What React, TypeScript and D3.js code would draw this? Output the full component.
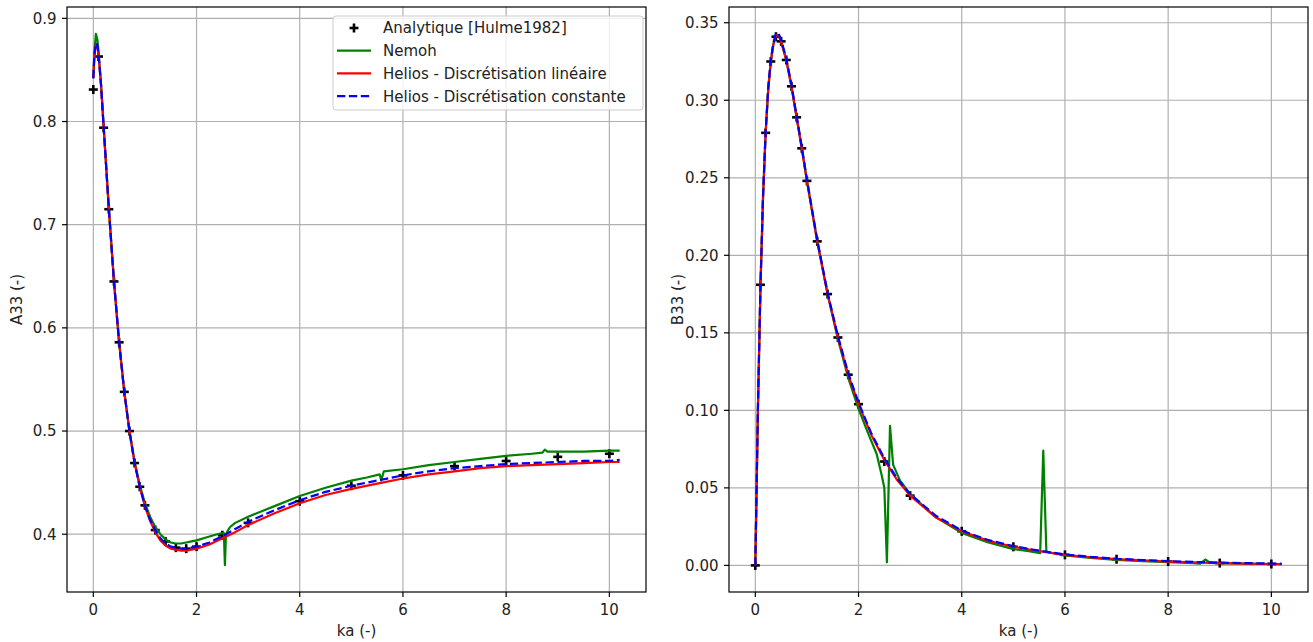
import React from "react";
import * as d3 from "d3";

// ---------- DATA ----------
const analyticX = [0, 0.1, 0.2, 0.3, 0.4, 0.5, 0.6, 0.7, 0.8, 0.9, 1.0, 1.2, 1.4, 1.6, 1.8, 2.0, 2.5, 3, 4, 5, 6, 7, 8, 9, 10];
const analyticA33 = [0.831, 0.863, 0.794, 0.715, 0.645, 0.586, 0.538, 0.5, 0.469, 0.446, 0.428, 0.404, 0.393, 0.387, 0.386, 0.388, 0.399, 0.411, 0.432, 0.447, 0.457, 0.466, 0.471, 0.475, 0.478];
const analyticB33 = [0, 0.181, 0.279, 0.325, 0.341, 0.338, 0.326, 0.309, 0.289, 0.269, 0.248, 0.209, 0.175, 0.147, 0.123, 0.104, 0.067, 0.045, 0.022, 0.012, 0.0068, 0.004, 0.0025, 0.0015, 0.0009];

const heliosAX = [0, 0.02, 0.05, 0.08, 0.1, 0.15, 0.2, 0.3, 0.4, 0.5, 0.6, 0.7, 0.8, 0.9, 1.0, 1.1, 1.2, 1.3, 1.4, 1.5, 1.6, 1.7, 1.8, 1.9, 2.0, 2.25, 2.5, 2.75, 3.0, 3.5, 4.0, 4.5, 5.0, 5.5, 6.0, 6.5, 7.0, 7.5, 8.0, 8.5, 9.0, 9.5, 10.0, 10.2];
const heliosLinA33 = [0.842, 0.863, 0.875, 0.873, 0.866, 0.835, 0.795, 0.716, 0.645, 0.586, 0.538, 0.5, 0.469, 0.446, 0.427, 0.413, 0.402, 0.394, 0.389, 0.386, 0.385, 0.384, 0.384, 0.385, 0.386, 0.39, 0.396, 0.402, 0.409, 0.42, 0.43, 0.438, 0.444, 0.449, 0.454, 0.458, 0.461, 0.464, 0.466, 0.467, 0.468, 0.469, 0.47, 0.47];
const heliosConA33 = [0.842, 0.863, 0.876, 0.874, 0.866, 0.835, 0.795, 0.716, 0.645, 0.586, 0.538, 0.5, 0.469, 0.446, 0.428, 0.414, 0.404, 0.396, 0.391, 0.388, 0.387, 0.386, 0.386, 0.387, 0.388, 0.392, 0.398, 0.405, 0.412, 0.423, 0.433, 0.441, 0.447, 0.452, 0.457, 0.461, 0.464, 0.466, 0.468, 0.469, 0.47, 0.471, 0.471, 0.472];

const nemohAX = [0, 0.02, 0.05, 0.08, 0.1, 0.15, 0.2, 0.3, 0.4, 0.5, 0.6, 0.7, 0.8, 0.9, 1.0, 1.1, 1.2, 1.3, 1.4, 1.5, 1.6, 1.7, 1.8, 1.9, 2.0, 2.2, 2.4, 2.5, 2.53, 2.55, 2.57, 2.6, 2.65, 2.75, 3.0, 3.5, 4.0, 4.5, 5.0, 5.3, 5.55, 5.58, 5.63, 6.0, 6.5, 7.0, 7.5, 8.0, 8.5, 8.7, 8.75, 8.8, 9.0, 9.5, 10.0, 10.2];
const nemohA33 = [0.842, 0.867, 0.885, 0.879, 0.868, 0.836, 0.795, 0.716, 0.645, 0.586, 0.538, 0.5, 0.47, 0.448, 0.43, 0.417, 0.407, 0.4, 0.395, 0.392, 0.391, 0.391, 0.392, 0.393, 0.394, 0.397, 0.4, 0.401, 0.401, 0.37, 0.4, 0.403, 0.407, 0.411, 0.417, 0.427, 0.437, 0.445, 0.452, 0.455, 0.458, 0.452, 0.461, 0.463, 0.467, 0.47, 0.473, 0.476, 0.478, 0.479, 0.482, 0.48, 0.48, 0.48, 0.481, 0.481];

const heliosBX = [0, 0.05, 0.1, 0.15, 0.2, 0.25, 0.3, 0.35, 0.4, 0.45, 0.5, 0.6, 0.7, 0.8, 0.9, 1.0, 1.2, 1.4, 1.6, 1.8, 2.0, 2.25, 2.5, 2.75, 3.0, 3.5, 4, 4.5, 5, 5.5, 6, 6.5, 7, 7.5, 8, 8.5, 9, 9.5, 10, 10.2];
const heliosLinB33 = [0, 0.1, 0.18, 0.238, 0.279, 0.307, 0.325, 0.336, 0.342, 0.342, 0.338, 0.326, 0.309, 0.289, 0.269, 0.248, 0.209, 0.175, 0.147, 0.123, 0.104, 0.084, 0.068, 0.055, 0.045, 0.031, 0.022, 0.016, 0.012, 0.0092, 0.0068, 0.0052, 0.004, 0.0032, 0.0025, 0.0019, 0.0015, 0.0012, 0.0009, 0.0008];
const heliosConB33 = [0, 0.101, 0.181, 0.239, 0.28, 0.308, 0.326, 0.337, 0.343, 0.343, 0.339, 0.327, 0.31, 0.29, 0.27, 0.249, 0.21, 0.176, 0.148, 0.124, 0.105, 0.085, 0.069, 0.056, 0.046, 0.032, 0.0225, 0.0165, 0.0124, 0.0095, 0.0071, 0.0055, 0.0043, 0.0035, 0.0028, 0.0022, 0.0018, 0.0015, 0.0012, 0.0011];

const nemohBX = [0, 0.05, 0.1, 0.15, 0.2, 0.25, 0.3, 0.35, 0.4, 0.45, 0.5, 0.6, 0.7, 0.8, 0.9, 1.0, 1.2, 1.4, 1.6, 1.8, 2.0, 2.2, 2.35, 2.45, 2.5, 2.55, 2.61, 2.67, 2.8, 3.0, 3.5, 4, 4.5, 5, 5.3, 5.52, 5.58, 5.64, 5.7, 6, 6.5, 7, 7.5, 8, 8.5, 8.62, 8.72, 8.8, 9, 9.5, 10, 10.2];
const nemohB33 = [0, 0.1, 0.18, 0.238, 0.279, 0.307, 0.325, 0.336, 0.342, 0.342, 0.338, 0.326, 0.309, 0.289, 0.269, 0.248, 0.209, 0.175, 0.146, 0.121, 0.101, 0.084, 0.072, 0.058, 0.05, 0.002, 0.09, 0.065, 0.055, 0.046, 0.031, 0.021, 0.015, 0.0105, 0.0092, 0.0079, 0.074, 0.0091, 0.0083, 0.0064, 0.0049, 0.0036, 0.0028, 0.0021, 0.0015, 0.0012, 0.0038, 0.0019, 0.0015, 0.0012, 0.0009, 0.0008];

const xTicks = [0, 2, 4, 6, 8, 10];
const yTicksA = [0.4, 0.5, 0.6, 0.7, 0.8, 0.9];
const yTicksB = [0, 0.05, 0.1, 0.15, 0.2, 0.25, 0.3, 0.35];
const legendLabels = ["Analytique [Hulme1982]", "Nemoh", "Helios - Discrétisation linéaire", "Helios - Discrétisation constante"];

// ---------- LAYOUT ----------
const W = 1313;
const H = 642;
const TOP = 7;
const BOTTOM = 592;
const FONT = "'DejaVu Sans', sans-serif";
const FS = 15;

type Series = { x: number[]; y: number[] };

function zip(s: Series): [number, number][] {
  return s.x.map((x, i) => [x, s.y[i]] as [number, number]);
}

function Panel(props: {
  left: number;
  right: number;
  yDomain: [number, number];
  yTicks: number[];
  yFmt: (v: number) => string;
  yLabel: string;
  yLabelX: number;
  analytic: Series;
  nemoh: Series;
  lin: Series;
  con: Series;
  legend?: boolean;
}) {
  const x = d3.scaleLinear().domain([-0.51, 10.71]).range([props.left, props.right]);
  const y = d3.scaleLinear().domain(props.yDomain).range([BOTTOM, TOP]);
  const line = d3
    .line<[number, number]>()
    .x((d) => x(d[0]))
    .y((d) => y(d[1]));
  const ms = 4.5;
  return (
    <g>
      {xTicks.map((t) => (
        <line key={"gx" + t} x1={x(t)} x2={x(t)} y1={TOP} y2={BOTTOM} stroke="#b0b0b0" strokeWidth={1.2} />
      ))}
      {props.yTicks.map((t) => (
        <line key={"gy" + t} x1={props.left} x2={props.right} y1={y(t)} y2={y(t)} stroke="#b0b0b0" strokeWidth={1.2} />
      ))}
      {zip(props.analytic).map((d, i) => (
        <g key={"m" + i} stroke="black" strokeWidth={2.6}>
          <line x1={x(d[0]) - ms} x2={x(d[0]) + ms} y1={y(d[1])} y2={y(d[1])} />
          <line x1={x(d[0])} x2={x(d[0])} y1={y(d[1]) - ms} y2={y(d[1]) + ms} />
        </g>
      ))}
      <path d={line(zip(props.nemoh)) || ""} fill="none" stroke="#008000" strokeWidth={2.2} strokeLinejoin="round" />
      <path d={line(zip(props.lin)) || ""} fill="none" stroke="#ff0000" strokeWidth={2.2} strokeLinejoin="round" />
      <path d={line(zip(props.con)) || ""} fill="none" stroke="#0000ff" strokeWidth={2.2} strokeDasharray="8.3,3.6" strokeLinejoin="round" />
      <rect x={props.left} y={TOP} width={props.right - props.left} height={BOTTOM - TOP} fill="none" stroke="black" strokeWidth={1.2} />
      {xTicks.map((t) => (
        <g key={"xt" + t}>
          <line x1={x(t)} x2={x(t)} y1={BOTTOM} y2={BOTTOM + 5} stroke="black" strokeWidth={1.2} />
          <text x={x(t)} y={615} textAnchor="middle" fontFamily={FONT} fontSize={FS} fill="#222">
            {String(t)}
          </text>
        </g>
      ))}
      {props.yTicks.map((t) => (
        <g key={"yt" + t}>
          <line x1={props.left - 5} x2={props.left} y1={y(t)} y2={y(t)} stroke="black" strokeWidth={1.2} />
          <text x={props.left - 10.5} y={y(t) + 5.4} textAnchor="end" fontFamily={FONT} fontSize={FS} fill="#222">
            {props.yFmt(t)}
          </text>
        </g>
      ))}
      <text x={(props.left + props.right) / 2} y={636} textAnchor="middle" fontFamily={FONT} fontSize={FS} fill="#222">
        ka (-)
      </text>
      <text
        transform={`translate(${props.yLabelX},${(TOP + BOTTOM) / 2}) rotate(-90)`}
        textAnchor="middle"
        fontFamily={FONT}
        fontSize={FS}
        fill="#222"
      >
        {props.yLabel}
      </text>
      {props.legend && (
        <g>
          <rect x={333} y={16} width={310} height={94} rx={3} fill="white" fillOpacity={0.8} stroke="#cccccc" strokeWidth={1} />
          {legendLabels.map((lab, i) => {
            const ry = 28 + i * 22.7;
            return (
              <g key={lab}>
                {i === 0 && (
                  <g stroke="black" strokeWidth={2.6}>
                    <line x1={354 - ms} x2={354 + ms} y1={ry} y2={ry} />
                    <line x1={354} x2={354} y1={ry - ms} y2={ry + ms} />
                  </g>
                )}
                {i > 0 && (
                  <line
                    x1={337}
                    x2={371}
                    y1={ry}
                    y2={ry}
                    stroke={i === 1 ? "#008000" : i === 2 ? "#ff0000" : "#0000ff"}
                    strokeWidth={2.2}
                    strokeDasharray={i === 3 ? "8.3,3.6" : undefined}
                  />
                )}
                <text x={383} y={ry + 5.4} fontFamily={FONT} fontSize={FS} fill="#222">
                  {lab}
                </text>
              </g>
            );
          })}
        </g>
      )}
    </g>
  );
}

export default function App() {
  return (
    <svg
      width={W}
      height={H}
      viewBox={`0 0 ${W} ${H}`}
      style={{ position: "absolute", left: 0, top: 0, background: "white" }}
    >
      <rect x={0} y={0} width={W} height={H} fill="white" />
      <Panel
        left={67}
        right={646}
        yDomain={[0.344, 0.911]}
        yTicks={yTicksA}
        yFmt={(v) => v.toFixed(1)}
        yLabel="A33 (-)"
        yLabelX={22}
        analytic={{ x: analyticX, y: analyticA33 }}
        nemoh={{ x: nemohAX, y: nemohA33 }}
        lin={{ x: heliosAX, y: heliosLinA33 }}
        con={{ x: heliosAX, y: heliosConA33 }}
        legend
      />
      <Panel
        left={729}
        right={1308}
        yDomain={[-0.01715, 0.36015]}
        yTicks={yTicksB}
        yFmt={(v) => v.toFixed(2)}
        yLabel="B33 (-)"
        yLabelX={683}
        analytic={{ x: analyticX, y: analyticB33 }}
        nemoh={{ x: nemohBX, y: nemohB33 }}
        lin={{ x: heliosBX, y: heliosLinB33 }}
        con={{ x: heliosBX, y: heliosConB33 }}
      />
    </svg>
  );
}
